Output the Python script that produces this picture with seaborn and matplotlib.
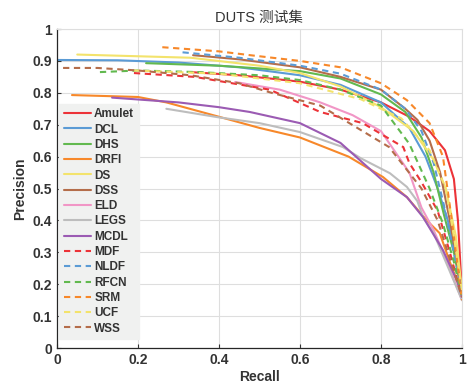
import matplotlib
matplotlib.use('Agg')
import matplotlib.pyplot as plt
from matplotlib import ticker
import pandas as pd
import seaborn as sns

methods = ['Amulet', 'DCL', 'DHS', 'DRFI', 'DS', 'DSS', 'ELD', 'LEGS', 'MCDL',
           'MDF', 'NLDF', 'RFCN', 'SRM', 'UCF', 'WSS']

amulet_r = [0.33, 0.45, 0.6, 0.7, 0.8, 0.87, 0.92, 0.958, 0.98, 0.99, 1.0]
amulet_p = [0.865, 0.855, 0.835, 0.81, 0.77, 0.725, 0.68, 0.62, 0.53, 0.4, 0.17]
dcl_r = [0.0, 0.15, 0.3, 0.45, 0.6, 0.7, 0.8, 0.87, 0.91, 0.94, 0.965, 0.985, 1.0]
dcl_p = [0.903, 0.902, 0.895, 0.88, 0.855, 0.825, 0.77, 0.69, 0.6, 0.5, 0.4, 0.28, 0.17]
dhs_r = [0.22, 0.4, 0.6, 0.7, 0.8, 0.86, 0.9, 0.93, 0.955, 0.98, 1.0]
dhs_p = [0.893, 0.885, 0.868, 0.845, 0.795, 0.74, 0.66, 0.55, 0.42, 0.3, 0.17]
drfi_r = [0.037, 0.2, 0.27, 0.4, 0.5, 0.6, 0.68, 0.72, 0.805, 0.864, 0.913, 0.945, 0.97, 1.0]
drfi_p = [0.793, 0.787, 0.77, 0.725, 0.69, 0.66, 0.62, 0.6, 0.536, 0.473, 0.40, 0.36, 0.27, 0.17]
ds_r = [0.05, 0.33, 0.5, 0.6, 0.7, 0.8, 0.88, 0.93, 0.96, 0.985, 1.0]
ds_p = [0.92, 0.91, 0.885, 0.862, 0.82, 0.755, 0.68, 0.59, 0.5, 0.35, 0.18]
dss_r = [0.336, 0.45, 0.6, 0.7, 0.8, 0.86, 0.89, 0.92, 0.946, 0.97, 0.99, 1.0]
dss_p = [0.918, 0.905, 0.88, 0.85, 0.81, 0.75, 0.715, 0.65, 0.55, 0.4, 0.25, 0.17]
eld_r = [0.44, 0.55, 0.65, 0.73, 0.8, 0.87, 0.9, 0.93, 0.96, 1.0]
eld_p = [0.834, 0.81, 0.77, 0.73, 0.68, 0.55, 0.44, 0.37, 0.28, 0.15]
legs_r = [0.27, 0.395, 0.5, 0.6, 0.706, 0.75, 0.822, 0.864, 0.89, 0.904, 0.93, 0.96, 1.0]
legs_p = [0.75, 0.724, 0.705, 0.677, 0.63, 0.595, 0.548, 0.505, 0.46, 0.41, 0.36, 0.27, 0.15]
mcdl_r = [0.136, 0.3, 0.4, 0.476, 0.6, 0.7, 0.8, 0.864, 0.904, 0.953, 0.988, 1.0]
mcdl_p = [0.785, 0.77, 0.755, 0.74, 0.705, 0.643, 0.53, 0.473, 0.41, 0.307, 0.21, 0.16]
mdf_r = [0.19, 0.34, 0.525, 0.65, 0.755, 0.855, 0.87, 0.9, 0.94, 0.97, 1.0]
mdf_p = [0.862, 0.85, 0.81, 0.74, 0.705, 0.63, 0.58, 0.52, 0.43, 0.3, 0.16]
nldf_r = [0.31, 0.45, 0.6, 0.7, 0.8, 0.86, 0.9, 0.93, 0.955, 0.98, 1.0]
nldf_p = [0.927, 0.91, 0.885, 0.86, 0.81, 0.75, 0.68, 0.58, 0.45, 0.3, 0.17]
rfcn_r = [0.106, 0.2, 0.35, 0.5, 0.6, 0.7, 0.8, 0.87, 0.92, 0.953, 0.98, 1.0]
rfcn_p = [0.865, 0.87, 0.865, 0.855, 0.84, 0.81, 0.76, 0.64, 0.5, 0.39, 0.27, 0.16]
srm_r = [0.26, 0.4, 0.477, 0.6, 0.7, 0.8, 0.864, 0.92, 0.953, 0.975, 0.99, 1.0]
srm_p = [0.943, 0.93, 0.918, 0.9, 0.88, 0.83, 0.777, 0.705, 0.6, 0.4, 0.25, 0.15]
ucf_r = [0.19, 0.4, 0.6, 0.75, 0.85, 0.92, 0.96, 0.98, 1.0]
ucf_p = [0.87, 0.86, 0.83, 0.78, 0.72, 0.62, 0.5, 0.35, 0.18]
wss_r = [0.015, 0.1, 0.2, 0.33, 0.45, 0.53, 0.65, 0.82, 0.9, 0.94, 0.97, 1.0]
wss_p = [0.878, 0.878, 0.87, 0.855, 0.83, 0.8, 0.76, 0.63, 0.5, 0.4, 0.28, 0.16]

curves = {
    'Amulet': (amulet_r, amulet_p), 'DCL': (dcl_r, dcl_p), 'DHS': (dhs_r, dhs_p),
    'DRFI': (drfi_r, drfi_p), 'DS': (ds_r, ds_p), 'DSS': (dss_r, dss_p),
    'ELD': (eld_r, eld_p), 'LEGS': (legs_r, legs_p), 'MCDL': (mcdl_r, mcdl_p),
    'MDF': (mdf_r, mdf_p), 'NLDF': (nldf_r, nldf_p), 'RFCN': (rfcn_r, rfcn_p),
    'SRM': (srm_r, srm_p), 'UCF': (ucf_r, ucf_p), 'WSS': (wss_r, wss_p),
}

colors = ['#ec3338', '#5b9bd5', '#62b94f', '#f7882a', '#f3e36c', '#b46d4a',
          '#f196c6', '#bdbdbd', '#9b5bb3',
          '#ec3338', '#5b9bd5', '#62b94f', '#f7882a', '#f3e36c', '#b46d4a']

rows = []
for m in methods:
    r, p = curves[m]
    for ri, pi in zip(r, p):
        rows.append({'method': m, 'recall': ri, 'precision': pi})
df = pd.DataFrame(rows)

sns.set_style('whitegrid')
plt.rcParams['font.family'] = ['Liberation Sans', 'Noto Sans CJK SC', 'DejaVu Sans']

fig = plt.figure(figsize=(4.75, 3.85), dpi=100)
ax = fig.add_axes([0.12, 0.096, 0.8526, 0.8286])

dashes = {m: ('' if i < 9 else (3, 2.2)) for i, m in enumerate(methods)}
sns.lineplot(data=df, x='recall', y='precision', hue='method', style='method',
             hue_order=methods, style_order=methods, palette=colors, dashes=dashes,
             estimator=None, sort=False, linewidth=1.5, ax=ax)

ax.set_xlim(0, 1)
ax.set_ylim(0, 1)
ax.xaxis.set_major_locator(ticker.MultipleLocator(0.2))
ax.yaxis.set_major_locator(ticker.MultipleLocator(0.1))
ax.xaxis.set_major_formatter(ticker.FormatStrFormatter('%g'))
ax.yaxis.set_major_formatter(ticker.FormatStrFormatter('%g'))
ax.grid(True, color='#dedede', linewidth=0.8)
ax.tick_params(direction='in', length=3, labelsize=10, colors='#333333',
               bottom=True, left=True)
for lab in ax.get_xticklabels() + ax.get_yticklabels():
    lab.set_fontweight('bold')
for s in ['left', 'bottom']:
    ax.spines[s].set_color('#262626')
    ax.spines[s].set_linewidth(0.9)
for s in ['top', 'right']:
    ax.spines[s].set_color('#dedede')

ax.set_xlabel('Recall', fontsize=10, fontweight='bold', color='#333333', labelpad=2)
ax.set_ylabel('Precision', fontsize=10, fontweight='bold', color='#333333', labelpad=4)
ax.set_title('DUTS 测试集', fontsize=10.5, color='#333333', pad=5)

leg = ax.legend(loc='lower left', bbox_to_anchor=(0.0, 0.02),
                prop={'weight': 'bold', 'size': 8.5}, frameon=True,
                handlelength=2.3, handletextpad=0.25, labelspacing=0.28,
                borderpad=0.4, borderaxespad=0.2, fancybox=False)
leg.get_frame().set_facecolor('#f0f1f0')
leg.get_frame().set_edgecolor('#f0f1f0')
leg.get_frame().set_alpha(1)
for t in leg.get_texts():
    t.set_color('#333333')

fig.savefig('out.png', dpi=100)
